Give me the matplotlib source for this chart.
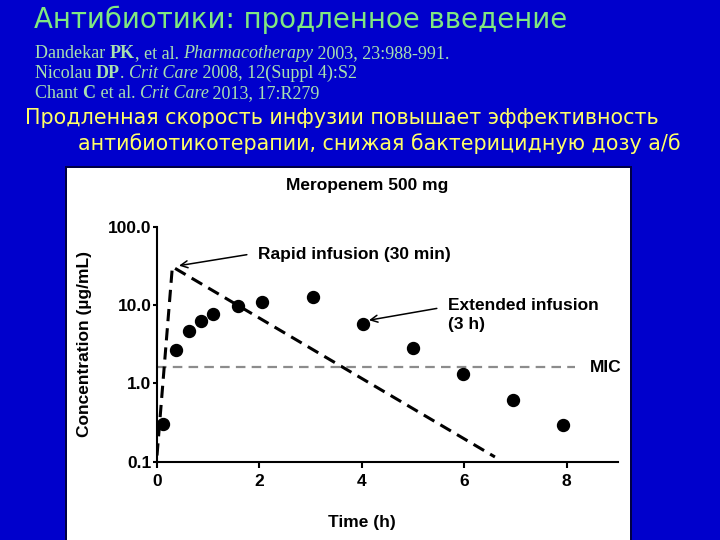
# слайд: меропенем, быстрая и продленная инфузия (лог-шкала)
import matplotlib
matplotlib.use("Agg")
import matplotlib.pyplot as plt
from matplotlib.patches import Rectangle
from matplotlib.ticker import FixedLocator, NullLocator

# =====================================================
# данные
# =====================================================
EXT_TIME = [0.12, 0.37, 0.62, 0.86, 1.10, 1.59, 2.06, 3.05, 4.03, 5.00, 5.98, 6.96, 7.93]
EXT_CONC = [0.30, 2.7, 4.7, 6.3, 7.7, 9.7, 11.0, 12.5, 5.8, 2.8, 1.32, 0.62, 0.29]

RAPID_TIME = [0.0, 0.3, 6.6]
RAPID_CONC = [0.12, 30.8, 0.115]

MIC_TIME = [0.0, 8.16]
MIC_CONC = [1.6, 1.6]

X_TICKS = [0, 2, 4, 6, 8]
Y_TICKS = [0.1, 1.0, 10.0, 100.0]
Y_TICK_LABELS = ["0.1", "1.0", "10.0", "100.0"]

TITLE = "Антибиотики: продленное введение"
SUBTITLE = [
    "Продленная скорость инфузии повышает эффективность",
    "антибиотикотерапии, снижая бактерицидную дозу а/б",
]
REFS = [
    [("Dandekar ", "normal", "normal"), ("PK", "bold", "normal"), (", et al. ", "normal", "normal"),
     ("Pharmacotherapy", "normal", "italic"), (" 2003, 23:988-991.", "normal", "normal")],
    [("Nicolau ", "normal", "normal"), ("DP", "bold", "normal"), (". ", "normal", "normal"),
     ("Crit Care", "normal", "italic"), (" 2008, 12(Suppl 4):S2", "normal", "normal")],
    [("Chant ", "normal", "normal"), ("C", "bold", "normal"), (" et al. ", "normal", "normal"),
     ("Crit Care", "normal", "italic"), (" 2013, 17:R279", "normal", "normal")],
]
# =====================================================

BLUE = "#0000CC"
W, H = 720, 540


def px(x, y):
    # пиксели слайда -> координаты фигуры
    return x / W, 1 - y / H


def draw_slide(fig, bg):
    bg.set_xlim(0, 1)
    bg.set_ylim(0, 1)
    bg.axis("off")

    # белая подложка под график + тень
    x0, y0 = px(65, 166)
    bg.add_patch(Rectangle((x0, 0), (632 - 65) / W, y0, color="#000044", lw=0))
    x0, y0 = px(67, 168)
    bg.add_patch(Rectangle((x0, 0), (630 - 67) / W, y0, color="white", lw=0))

    bg.text(*px(34, 28.5), TITLE, fontsize=19.9, color="#80E880",
            family="DejaVu Sans", va="baseline")

    # ссылки: кусками, чтобы были курсив и жирный; общая базовая линия
    for i, line in enumerate(REFS):
        x, y = px(35, 58 + 20 * i)
        prev = None
        for s, weight, style in line:
            kw = dict(fontsize=13, color="#A8E0B0", family="Liberation Serif",
                      fontweight=weight, fontstyle=style, va="baseline", ha="left")
            if prev is None:
                prev = bg.text(x, y, s, **kw)
            else:
                prev = bg.annotate(s, xy=(1, y), xycoords=(prev, "axes fraction"), **kw)

    bg.text(*px(25, 123.5), SUBTITLE[0], fontsize=14.9, color="#FFFF66",
            family="DejaVu Sans", va="baseline")
    bg.text(*px(78, 150), SUBTITLE[1], fontsize=14.9, color="#FFFF66",
            family="DejaVu Sans", va="baseline")


def draw_chart(ax):
    ax.set_facecolor("white")

    ax.plot(RAPID_TIME, RAPID_CONC, color="black", lw=2.2,
            dashes=(4, 2.3), zorder=2)
    ax.plot(MIC_TIME, MIC_CONC, color="#8C8C8C", lw=1.6,
            dashes=(4.3, 2.8), zorder=1)
    ax.plot(EXT_TIME, EXT_CONC, "o", color="black", markersize=8.6, zorder=3)

    ax.set_yscale("log")
    ax.set_xlim(0, 9)
    ax.set_ylim(0.1, 100)

    ax.xaxis.set_major_locator(FixedLocator(X_TICKS))
    ax.yaxis.set_major_locator(FixedLocator(Y_TICKS))
    ax.yaxis.set_minor_locator(NullLocator())
    ax.set_yticklabels(Y_TICK_LABELS)

    for s in ["top", "right"]:
        ax.spines[s].set_visible(False)
    for s in ["left", "bottom"]:
        ax.spines[s].set_linewidth(1.5)

    ax.tick_params(axis="x", length=4, width=1.5, pad=5, labelsize=12.5)
    ax.tick_params(axis="y", length=3, width=1.5, pad=1, labelsize=12.5)
    for lab in ax.get_xticklabels() + ax.get_yticklabels():
        lab.set_fontweight("bold")

    ax.set_xlabel("Time (h)", fontsize=12.5, fontweight="bold")
    ax.xaxis.set_label_coords(0.444, -0.225)
    ax.set_ylabel("Concentration (µg/mL)", fontsize=12.5, fontweight="bold")
    ax.yaxis.set_label_coords(-0.14, 0.5)

    ax.set_title("Meropenem 500 mg", fontsize=12.5, fontweight="bold",
                 x=0.456, y=1.177, va="center", pad=0)

    ax.annotate("Rapid infusion (30 min)", xy=(0.43, 31.8), xytext=(1.97, 44.3),
                fontsize=12.5, fontweight="bold", va="center", ha="left",
                arrowprops=dict(arrowstyle="->", lw=1.1, color="black",
                                relpos=(0, 0.6), shrinkA=6, shrinkB=0))

    ax.annotate("Extended infusion\n(3 h)", xy=(4.14, 6.4), xytext=(5.68, 7.45),
                fontsize=12.5, fontweight="bold", va="center", ha="left",
                linespacing=1.35,
                arrowprops=dict(arrowstyle="->", lw=1.1, color="black",
                                relpos=(0, 0.75), shrinkA=6, shrinkB=0))

    ax.text(8.46, 1.6, "MIC", fontsize=12.5, fontweight="bold", va="center")


def main():
    plt.rcParams["font.family"] = ["Liberation Sans", "DejaVu Sans"]

    fig = plt.figure(figsize=(7.2, 5.4), dpi=100, facecolor=BLUE)
    bg = fig.add_axes([0, 0, 1, 1])
    draw_slide(fig, bg)

    ax = fig.add_axes([157 / W, 1 - 461.7 / H, 460.8 / W, 235 / H])
    draw_chart(ax)

    fig.savefig("out.png", dpi=100, facecolor=BLUE)
    print("Saved: out.png")


if __name__ == "__main__":
    main()
